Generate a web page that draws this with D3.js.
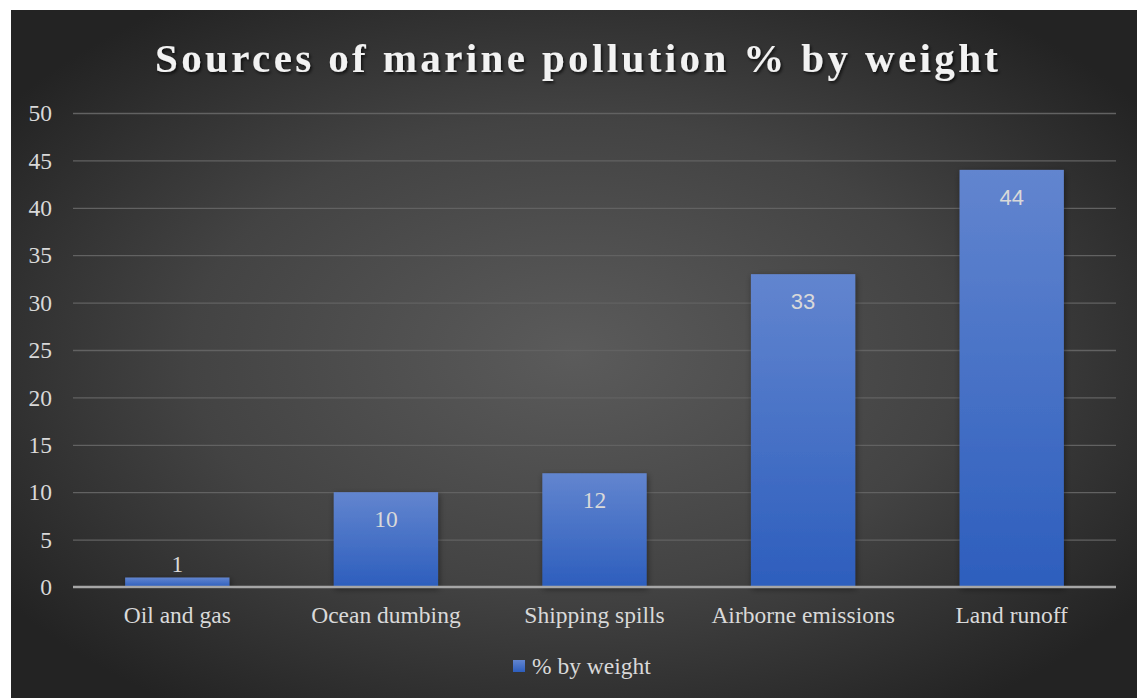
<!DOCTYPE html>
<html>
<head>
<meta charset="utf-8">
<script src="https://cdn.jsdelivr.net/npm/d3@7"></script>
<style>
  html, body { margin: 0; padding: 0; background: #ffffff; }
  svg { display: block; }
</style>
</head>
<body>
<svg id="chart" width="1137" height="698"></svg>
<script>
// Sources of marine pollution, share by weight
const categories = ["Oil and gas", "Ocean dumbing", "Shipping spills", "Airborne emissions", "Land runoff"];
const values = [1, 10, 12, 33, 44];
const yTicks = [0, 5, 10, 15, 20, 25, 30, 35, 40, 45, 50];
const titleText = "Sources of marine pollution % by weight";
const seriesName = "% by weight";

const W = 1137, H = 698;
const frame = { x: 11, y: 10, w: W - 11, h: H - 10 };
const plot = { left: 73, right: 1116, top: 113, bottom: 587 };
const serif = "'Liberation Serif', 'Times New Roman', serif";
const sans = "'Liberation Sans', Arial, sans-serif";

const svg = d3.select("#chart");
const defs = svg.append("defs");

// background: radial glow lighter in the middle
const bg = defs.append("radialGradient").attr("id", "bgGrad")
  .attr("cx", "50%").attr("cy", "50%").attr("r", "62%");
bg.append("stop").attr("offset", "0%").attr("stop-color", "#5b5b5b");
bg.append("stop").attr("offset", "55%").attr("stop-color", "#434343");
bg.append("stop").attr("offset", "100%").attr("stop-color", "#232323");

// bar fill: lighter top, deeper blue at the base
const bg2 = defs.append("linearGradient").attr("id", "barGrad")
  .attr("x1", 0).attr("y1", 0).attr("x2", 0).attr("y2", 1);
bg2.append("stop").attr("offset", "0%").attr("stop-color", "#6285cf");
bg2.append("stop").attr("offset", "100%").attr("stop-color", "#2d5ebd");

const shadow = defs.append("filter").attr("id", "barShadow")
  .attr("x", "-20%").attr("y", "-20%").attr("width", "140%").attr("height", "140%");
shadow.append("feDropShadow").attr("dx", 1).attr("dy", 2).attr("stdDeviation", 3)
  .attr("flood-color", "#000").attr("flood-opacity", 0.45);

const tShadow = defs.append("filter").attr("id", "titleShadow")
  .attr("x", "-5%").attr("y", "-30%").attr("width", "110%").attr("height", "160%");
tShadow.append("feDropShadow").attr("dx", 1.5).attr("dy", 2).attr("stdDeviation", 1.5)
  .attr("flood-color", "#000").attr("flood-opacity", 0.7);

svg.append("rect")
  .attr("x", frame.x).attr("y", frame.y).attr("width", frame.w).attr("height", frame.h)
  .attr("fill", "url(#bgGrad)");

const x = d3.scaleBand().domain(categories)
  .range([plot.left, plot.right]).paddingInner(0.5).paddingOuter(0.25);
const y = d3.scaleLinear().domain([0, 50]).range([plot.bottom, plot.top]);

// horizontal gridlines with value ticks
const yAxis = d3.axisLeft(y).tickValues(yTicks).tickSize(-(plot.right - plot.left));
const gy = svg.append("g").attr("transform", `translate(${plot.left},0)`).call(yAxis);
gy.select(".domain").remove();
gy.selectAll(".tick line").attr("stroke", "#626262").attr("stroke-width", 1.3)
  .filter(d => d === 0).remove();
gy.selectAll(".tick text")
  .attr("fill", "#d9d9d9")
  .attr("font-family", serif)
  .attr("font-size", 23.5)
  .attr("text-anchor", "end")
  .attr("x", -(plot.left - 52))
  .attr("dy", "0.33em");

// bars
svg.append("g").selectAll("rect").data(values).join("rect")
  .attr("x", (d, i) => x(categories[i]))
  .attr("y", d => y(d))
  .attr("width", x.bandwidth())
  .attr("height", d => y(0) - y(d))
  .attr("fill", "url(#barGrad)")
  .attr("filter", "url(#barShadow)");

// category axis
const xAxis = d3.axisBottom(x).tickSize(0).tickPadding(19);
const gx = svg.append("g").attr("transform", `translate(0,${plot.bottom})`).call(xAxis);
gx.select(".domain").attr("stroke", "#a6a6a6").attr("stroke-width", 2.5)
  .attr("d", `M${plot.left},0H${plot.right}`);
gx.selectAll(".tick text")
  .attr("fill", "#d9d9d9")
  .attr("font-family", serif)
  .attr("font-size", 23.5);

// value labels: inside the top of the bar, above it when the bar is too short
const sansLabels = new Set([33, 44]);
svg.append("g").selectAll("text").data(values).join("text")
  .attr("x", (d, i) => x(categories[i]) + x.bandwidth() / 2)
  .attr("y", d => (y(0) - y(d) > 30 ? y(d) + 35 : y(d) - 6))
  .attr("text-anchor", "middle")
  .attr("fill", "#d9d9d9")
  .attr("font-family", d => sansLabels.has(d) ? sans : serif)
  .attr("font-size", d => sansLabels.has(d) ? 22 : 23.5)
  .text(d => d);

// title
svg.append("text")
  .attr("x", 155).attr("y", 72)
  .attr("textLength", 843).attr("lengthAdjust", "spacing")
  .attr("fill", "#f2f2f2")
  .attr("font-family", serif)
  .attr("font-weight", "bold")
  .attr("font-size", 41)
  .attr("filter", "url(#titleShadow)")
  .text(titleText);

// legend
const lg = svg.append("g").attr("transform", "translate(513,660)");
lg.append("rect").attr("x", 0).attr("y", 0).attr("width", 12).attr("height", 12)
  .attr("fill", "url(#barGrad)");
lg.append("text").attr("x", 19).attr("y", 14)
  .attr("fill", "#d9d9d9")
  .attr("font-family", serif)
  .attr("font-size", 23.5)
  .text(seriesName);
</script>
</body>
</html>
